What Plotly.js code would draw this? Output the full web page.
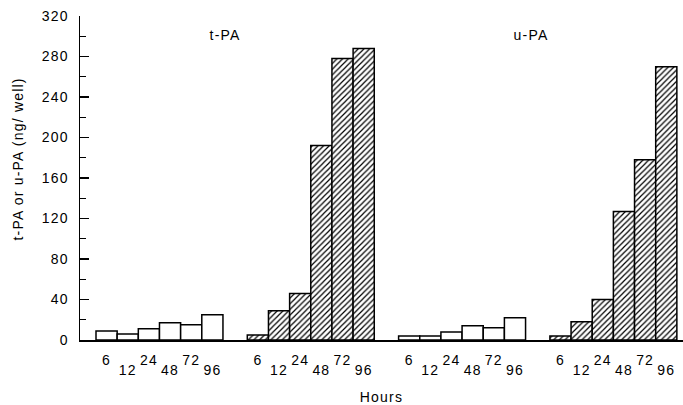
<!DOCTYPE html>
<html>
<head>
<meta charset="utf-8">
<script src="https://cdn.plot.ly/plotly-3.0.1.min.js"></script>
<style>
html, body { margin: 0; padding: 0; background: #fff; }
#chart { width: 683px; height: 405px; }
#chart svg text { letter-spacing: 1.2px; }
</style>
</head>
<body>
<div id="chart"></div>
<script>
// ---- data ----
var hours = ['6', '12', '24', '48', '72', '96'];
var tpaControl = [9, 6, 11, 17, 15, 25];
var tpaTreated = [5, 29, 46, 192, 278, 288];
var upaControl = [4, 4, 8, 14, 12, 22];
var upaTreated = [4, 18, 40, 127, 178, 270];
var panelLabels = ['t-PA', 'u-PA'];
var yTitle = 't-PA or u-PA (ng/ well)';
var xTitle = 'Hours';

// ---- layout helpers ----
var groupOffsets = [0, 7.15, 14.3, 21.45];
function positions(g) { return hours.map(function (_, i) { return groupOffsets[g] + i; }); }

var FONT = 'Liberation Sans, Arial, sans-serif';
var openBar = { color: '#ffffff', line: { color: '#000', width: 1.5 } };
var hatchBar = {
  color: '#ffffff',
  line: { color: '#000', width: 1.5 },
  pattern: { shape: '/', fgcolor: '#000', bgcolor: '#ffffff', size: 4, solidity: 0.3 }
};

var series = [tpaControl, tpaTreated, upaControl, upaTreated];
var styles = [openBar, hatchBar, openBar, hatchBar];
var traces = series.map(function (vals, g) {
  return { type: 'bar', x: positions(g), y: vals, width: 1, marker: styles[g], showlegend: false, hoverinfo: 'skip' };
});

// staggered hour labels: upper row (6, 24, 72) and lower row (12, 48, 96)
var upperVals = [], upperText = [], lowerVals = [], lowerText = [];
for (var g = 0; g < 4; g++) {
  positions(g).forEach(function (p, i) {
    if (i % 2 === 0) { upperVals.push(p); upperText.push(hours[i]); }
    else { lowerVals.push(p); lowerText.push(hours[i]); }
  });
}
// invisible helper trace so the lower-row label axis is drawn
traces.push({ type: 'scatter', mode: 'none', x: lowerVals, y: lowerVals.map(function () { return null; }),
  xaxis: 'x2', yaxis: 'y', showlegend: false, hoverinfo: 'skip' });

var XRANGE = [-1.256, 27.24];
var TICKFONT = { family: FONT, size: 14, color: '#000' };

var layout = {
  width: 683, height: 405,
  margin: { l: 80, r: 0, t: 16, b: 65 },
  paper_bgcolor: '#fff', plot_bgcolor: '#fff',
  font: { family: FONT, size: 14, color: '#000' },
  bargap: 0,
  xaxis: {
    range: XRANGE,
    showline: true, linecolor: '#000', linewidth: 1.5,
    showgrid: false, zeroline: false,
    ticks: '', tickmode: 'array', tickvals: upperVals, ticktext: upperText,
    ticklabelstandoff: 7,
    tickfont: TICKFONT,
    title: { text: xTitle, font: { family: FONT, size: 14, color: '#000' }, standoff: 28 }
  },
  xaxis2: {
    range: XRANGE, overlaying: 'x', anchor: 'y', side: 'bottom',
    showline: false, showgrid: false, zeroline: false,
    ticks: '', tickmode: 'array', tickvals: lowerVals, ticktext: lowerText,
    ticklabelstandoff: 20,
    tickfont: TICKFONT
  },
  yaxis: {
    range: [0, 320],
    showline: true, linecolor: '#000', linewidth: 1.5,
    showgrid: false, zeroline: false,
    tickmode: 'linear', tick0: 0, dtick: 40,
    ticks: 'inside', ticklen: 9, tickwidth: 1.5, tickcolor: '#000',
    ticklabelstandoff: 7,
    minor: { dtick: 20, ticks: 'inside', ticklen: 6, tickwidth: 1.2, tickcolor: '#000' },
    tickfont: TICKFONT
  },
  annotations: [
    { text: panelLabels[0], xref: 'x', yref: 'paper', x: groupOffsets[0] + 5.6, y: 0.941, yanchor: 'middle', showarrow: false,
      font: { family: FONT, size: 14, color: '#000' } },
    { text: panelLabels[1], xref: 'x', yref: 'paper', x: groupOffsets[2] + 5.8, y: 0.941, yanchor: 'middle', showarrow: false,
      font: { family: FONT, size: 14, color: '#000' } },
    { text: yTitle, xref: 'paper', yref: 'paper', x: -0.103, y: 0.559, textangle: -90, showarrow: false,
      xanchor: 'center', yanchor: 'middle', font: { family: FONT, size: 14, color: '#000' } }
  ]
};

Plotly.newPlot('chart', traces, layout, { staticPlot: true, displayModeBar: false });
</script>
</body>
</html>
